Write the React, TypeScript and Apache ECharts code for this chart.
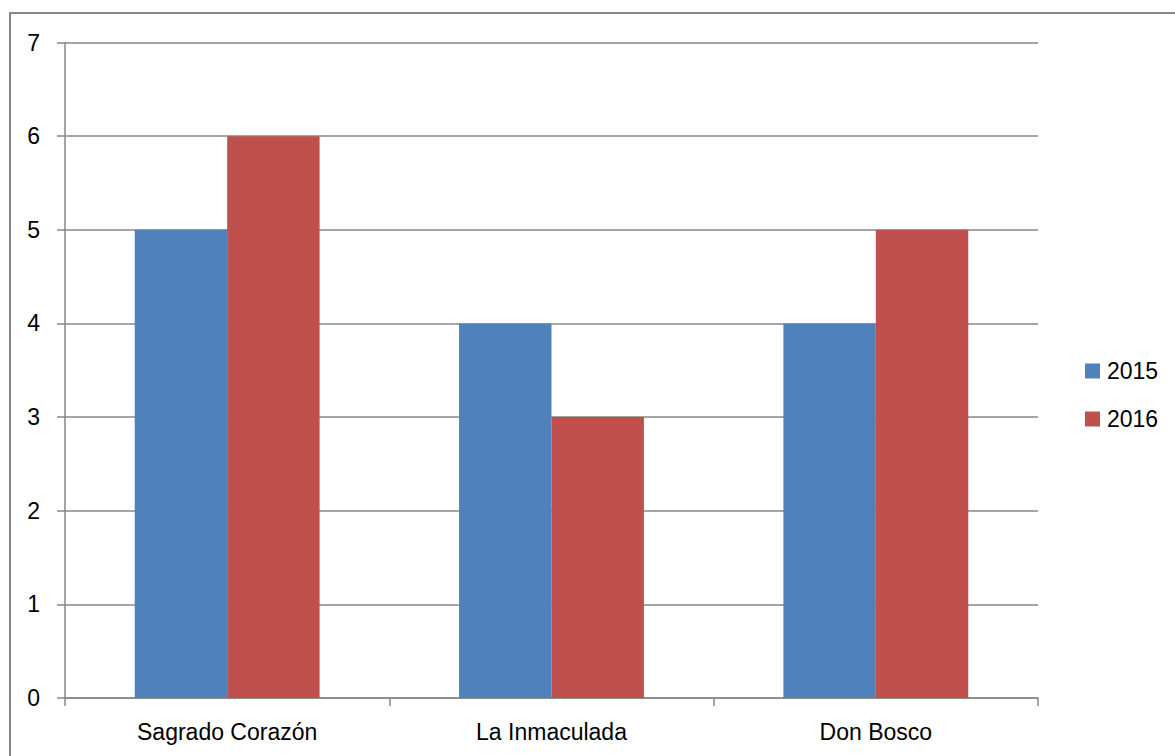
import React, { useEffect, useRef } from "react";
import * as echarts from "echarts";

const categories = ["Sagrado Corazón", "La Inmaculada", "Don Bosco"];
const seriesNames = ["2015", "2016"];
const values2015 = [5, 4, 4];
const values2016 = [6, 3, 5];
const colors = ["#4F81BD", "#C0504D"];

const FONT = "'Liberation Sans', Arial, sans-serif";

export default function App() {
  const ref = useRef<HTMLDivElement>(null);
  useEffect(() => {
    if (!ref.current) return;
    const chart = echarts.init(ref.current, undefined, { renderer: "svg" });
    chart.setOption({
      animation: false,
      backgroundColor: "#ffffff",
      textStyle: { fontFamily: FONT },
      graphic: [
        {
          type: "rect",
          silent: true,
          shape: { x: 10, y: 13, width: 1300, height: 900 },
          style: { fill: "none", stroke: "#878787", lineWidth: 2 },
          z: -10,
        },
      ],
      grid: { left: 65, right: 137, top: 42.5, bottom: 58, containLabel: false },
      legend: {
        orient: "vertical",
        left: 1080,
        top: 354,
        itemWidth: 15,
        itemHeight: 15,
        itemGap: 24,
        icon: "rect",
        data: seriesNames,
        textStyle: { fontFamily: FONT, fontSize: 23, color: "#000", lineHeight: 24, padding: [0, 0, 0, 2] },
      },
      xAxis: {
        type: "category",
        data: categories,
        axisLine: { lineStyle: { color: "#878787", width: 1.5 } },
        axisTick: { show: true, length: 8, lineStyle: { color: "#878787", width: 1.5 } },
        axisLabel: { fontFamily: FONT, fontSize: 23, color: "#000", margin: 22 },
      },
      yAxis: {
        type: "value",
        min: 0,
        max: 7,
        interval: 1,
        axisLine: { show: true, lineStyle: { color: "#878787", width: 1.5 } },
        axisTick: { show: true, length: 8, inside: false, lineStyle: { color: "#878787", width: 1.5 } },
        splitLine: { show: true, lineStyle: { color: "#878787", width: 1.5 } },
        axisLabel: { fontFamily: FONT, fontSize: 23, color: "#000", margin: 25 },
      },
      series: [
        {
          name: seriesNames[0],
          type: "bar",
          data: values2015,
          itemStyle: { color: colors[0] },
          barGap: "0%",
          barCategoryGap: "43%",
        },
        {
          name: seriesNames[1],
          type: "bar",
          data: values2016,
          itemStyle: { color: colors[1] },
          barGap: "0%",
          barCategoryGap: "43%",
        },
      ],
    });
    return () => chart.dispose();
  }, []);
  return (
    <div
      ref={ref}
      style={{ position: "fixed", left: 0, top: 0, width: 1175, height: 756 }}
    />
  );
}
